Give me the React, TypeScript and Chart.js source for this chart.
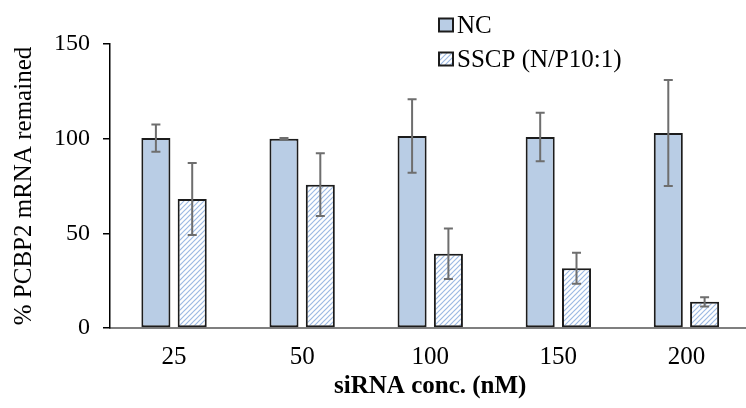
import React, { useEffect, useRef } from "react";
import { Chart, registerables } from "chart.js";

Chart.register(...registerables);

const categories = ["25", "50", "100", "150", "200"];
const seriesLabels = ["NC", "SSCP (N/P10:1)"];
const ncValues = [100.3, 100.0, 101.4, 100.9, 103.0];
const ncErrors = [7.2, 0.3, 19.4, 12.8, 28.0];
const sscpValues = [68.1, 75.7, 39.2, 31.6, 13.8];
const sscpErrors = [19.0, 16.6, 13.3, 8.2, 2.5];
const yTitle = "% PCBP2 mRNA remained";
const xTitle = "siRNA conc. (nM)";

const FONT = "'Liberation Serif', 'Times New Roman', serif";

function makeHatch(): CanvasPattern | string {
  const size = 5;
  const c = document.createElement("canvas");
  c.width = size;
  c.height = size;
  const ctx = c.getContext("2d");
  if (!ctx) return "#ffffff";
  ctx.fillStyle = "#ffffff";
  ctx.fillRect(0, 0, size, size);
  ctx.strokeStyle = "#9dbae3";
  ctx.lineWidth = 1.2;
  ctx.beginPath();
  ctx.moveTo(0, size);
  ctx.lineTo(size, 0);
  ctx.moveTo(-1, 1);
  ctx.lineTo(1, -1);
  ctx.moveTo(size - 1, size + 1);
  ctx.lineTo(size + 1, size - 1);
  ctx.stroke();
  return ctx.createPattern(c, "repeat") || "#ffffff";
}

const errorBarPlugin = {
  id: "errorBars",
  afterDatasetsDraw(chart: any) {
    const ctx = chart.ctx;
    const yScale = chart.scales.y;
    ctx.save();
    ctx.strokeStyle = "#6e6e6e";
    ctx.lineWidth = 2;
    chart.data.datasets.forEach((ds: any, i: number) => {
      const meta = chart.getDatasetMeta(i);
      meta.data.forEach((el: any, j: number) => {
        const v = ds.data[j];
        const e = ds.errors[j];
        const top = yScale.getPixelForValue(v + e);
        const bot = yScale.getPixelForValue(v - e);
        const x = el.x;
        ctx.beginPath();
        ctx.moveTo(x, top);
        ctx.lineTo(x, bot);
        ctx.moveTo(x - 4.5, top);
        ctx.lineTo(x + 4.5, top);
        ctx.moveTo(x - 4.5, bot);
        ctx.lineTo(x + 4.5, bot);
        ctx.stroke();
      });
    });
    ctx.restore();
  },
};

const legendPlugin = {
  id: "customLegend",
  afterDraw(chart: any) {
    const ctx = chart.ctx;
    ctx.save();
    const x0 = 439;
    const rows = [25, 59];
    chart.data.datasets.forEach((ds: any, i: number) => {
      const cy = rows[i];
      ctx.fillStyle = ds.backgroundColor;
      ctx.fillRect(x0, cy - 6.5, 14, 13);
      ctx.strokeStyle = "#1c1c1c";
      ctx.lineWidth = 2;
      ctx.strokeRect(x0, cy - 6.5, 14, 13);
      ctx.fillStyle = "#000";
      ctx.font = `25px ${FONT}`;
      ctx.textBaseline = "alphabetic";
      ctx.textAlign = "left";
      ctx.fillText(ds.label, 457, cy + 8);
    });
    ctx.restore();
  },
};

export default function App() {
  const ref = useRef<HTMLCanvasElement | null>(null);

  useEffect(() => {
    if (!ref.current) return;
    const hatch = makeHatch();
    const chart = new Chart(ref.current, {
      type: "bar",
      data: {
        labels: categories,
        datasets: [
          {
            label: seriesLabels[0],
            data: ncValues,
            errors: ncErrors,
            backgroundColor: "#b9cde5",
            borderColor: "#1c1c1c",
            borderWidth: 2,
            borderSkipped: false,
            categoryPercentage: 0.567,
            barPercentage: 0.8,
          } as any,
          {
            label: seriesLabels[1],
            data: sscpValues,
            errors: sscpErrors,
            backgroundColor: hatch,
            borderColor: "#1c1c1c",
            borderWidth: 2,
            borderSkipped: false,
            categoryPercentage: 0.567,
            barPercentage: 0.8,
          } as any,
        ],
      },
      options: {
        animation: false,
        responsive: false,
        devicePixelRatio: 1,
        layout: { padding: { top: 44, right: 1.5, left: 0, bottom: 0 } },
        plugins: {
          legend: { display: false },
          tooltip: { enabled: false },
        },
        scales: {
          x: {
            grid: { display: false, drawTicks: false },
            border: { display: true, color: "#7f7f7f", width: 2 },
            ticks: {
              color: "#000",
              font: { family: FONT, size: 25 },
              padding: 14,
            },
            title: {
              display: true,
              text: xTitle,
              color: "#000",
              font: { family: FONT, size: 25, weight: "bold" },
              padding: { top: 0, bottom: 6 },
            },
            afterFit(scale: any) {
              scale.height = 80;
            },
          },
          y: {
            min: 0,
            max: 150,
            ticks: {
              stepSize: 50,
              color: "#000",
              font: { family: FONT, size: 24 },
              padding: 13,
            },
            grid: {
              display: true,
              drawOnChartArea: false,
              drawTicks: true,
              tickLength: 7,
              color: "#000",
              lineWidth: 1.5,
            },
            border: { display: true, color: "#000", width: 1.5 },
            title: {
              display: true,
              text: yTitle,
              color: "#000",
              font: { family: FONT, size: 25 },
              padding: { top: 9, bottom: 0 },
            },
            afterFit(scale: any) {
              scale.width = 110;
            },
          },
        },
      } as any,
      plugins: [errorBarPlugin, legendPlugin],
    });
    return () => chart.destroy();
  }, []);

  return (
    <div
      style={{
        position: "fixed",
        left: 0,
        top: 0,
        width: 746,
        height: 408,
        overflow: "hidden",
        background: "#fff",
      }}
    >
      <canvas
        ref={ref}
        width={752}
        height={408}
        style={{ width: 752, height: 408, display: "block" }}
      />
    </div>
  );
}
